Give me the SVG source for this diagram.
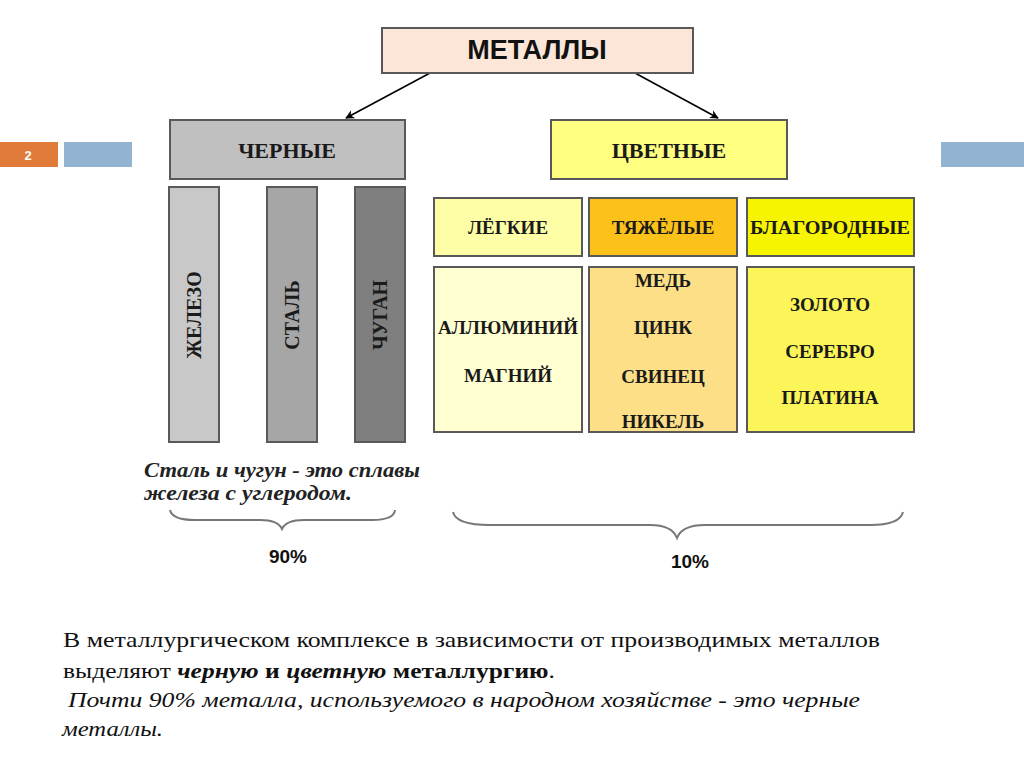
<svg xmlns="http://www.w3.org/2000/svg" width="1024" height="767" viewBox="0 0 1024 767">
<defs>
<marker id="ah" viewBox="0 0 10 10" refX="9" refY="5" markerWidth="9" markerHeight="9" orient="auto" markerUnits="userSpaceOnUse">
<path d="M0,0 L10,5 L0,10 L3,5 Z" fill="#000"/>
</marker>
</defs>
<style>
.box{stroke:#595959;stroke-width:2}
.lbl{font-family:"Liberation Serif","Times New Roman",serif;font-weight:bold;fill:#1a1a1a;text-anchor:middle}
.sans{font-family:"Liberation Sans",Arial,sans-serif;font-weight:bold;fill:#111;text-anchor:middle}
.txt{font-family:"Liberation Serif","Times New Roman",serif;font-size:22px;fill:#111}
.brace{fill:none;stroke:#777;stroke-width:2}
</style>
<rect width="1024" height="767" fill="#fff"/>
<g id="slide-decor">
<rect x="0" y="142" width="58" height="25" fill="#e07b39"/>
<text x="28" y="160" font-family="Liberation Sans,Arial,sans-serif" font-size="13" font-weight="bold" fill="#fff" text-anchor="middle">2</text>
<rect x="64" y="142" width="68" height="25" fill="#93b4d1"/>
<rect x="941" y="142" width="83" height="25" fill="#93b4d1"/>
</g>
<g id="connectors">
<line x1="430" y1="73" x2="346" y2="118" stroke="#000" stroke-width="1.6" marker-end="url(#ah)"/>
<line x1="635" y1="73" x2="718" y2="118" stroke="#000" stroke-width="1.6" marker-end="url(#ah)"/>
</g>
<g id="metals">
<rect class="box" x="382" y="28" width="311" height="45" fill="#fce6d8" stroke="#222"/>
<text class="sans" x="537" y="59" font-size="27">МЕТАЛЛЫ</text>
</g>
<g id="ferrous">
<rect class="box" x="170" y="120" width="235" height="59" fill="#c0c0c0"/>
<text class="lbl" x="287" y="158" font-size="22">ЧЕРНЫЕ</text>
</g>
<g id="nonferrous">
<rect class="box" x="551" y="120" width="236" height="59" fill="#fefe80" stroke="#7a7a4a"/>
<text class="lbl" x="669" y="158" font-size="22">ЦВЕТНЫЕ</text>
</g>
<g id="iron">
<rect class="box" x="169" y="187" width="50" height="255" fill="#c8c8c8"/>
<text class="lbl" transform="translate(201,315) rotate(-90)" font-size="20">ЖЕЛЕЗО</text>
</g>
<g id="steel">
<rect class="box" x="267" y="187" width="50" height="255" fill="#a6a6a6"/>
<text class="lbl" transform="translate(299,315) rotate(-90)" font-size="20">СТАЛЬ</text>
</g>
<g id="castiron">
<rect class="box" x="355" y="187" width="50" height="255" fill="#7f7f7f"/>
<text class="lbl" transform="translate(387,315) rotate(-90)" font-size="20">ЧУГАН</text>
</g>
<g id="light">
<rect class="box" x="434" y="198" width="148" height="58" fill="#fefea6" stroke="#8a8a6a"/>
<text class="lbl" x="508" y="234" font-size="19">ЛЁГКИЕ</text>
</g>
<g id="heavy">
<rect class="box" x="589" y="198" width="148" height="58" fill="#fcc21a" stroke="#8a7a4a"/>
<text class="lbl" x="663" y="234" font-size="19">ТЯЖЁЛЫЕ</text>
</g>
<g id="noble">
<rect class="box" x="747" y="198" width="167" height="58" fill="#f6f400" stroke="#8a8a4a"/>
<text class="lbl" x="830" y="234" font-size="19" textLength="160" lengthAdjust="spacingAndGlyphs">БЛАГОРОДНЫЕ</text>
</g>
<g id="light-list">
<rect class="box" x="434" y="267" width="148" height="165" fill="#ffffd2" stroke="#8a8a6a"/>
<text class="lbl" x="508" y="334" font-size="19" textLength="140" lengthAdjust="spacingAndGlyphs">АЛЛЮМИНИЙ</text>
<text class="lbl" x="508" y="382" font-size="19">МАГНИЙ</text>
</g>
<g id="heavy-list">
<rect class="box" x="589" y="267" width="148" height="165" fill="#fddf88" stroke="#8a7a4a"/>
<text class="lbl" x="663" y="287" font-size="19">МЕДЬ</text>
<text class="lbl" x="663" y="334" font-size="19">ЦИНК</text>
<text class="lbl" x="663" y="383" font-size="19">СВИНЕЦ</text>
<text class="lbl" x="663" y="428" font-size="19">НИКЕЛЬ</text>
</g>
<g id="noble-list">
<rect class="box" x="747" y="267" width="167" height="165" fill="#fbf55a" stroke="#8a8a4a"/>
<text class="lbl" x="830" y="311" font-size="19">ЗОЛОТО</text>
<text class="lbl" x="830" y="358" font-size="19">СЕРЕБРО</text>
<text class="lbl" x="830" y="404" font-size="19">ПЛАТИНА</text>
</g>
<g id="note">
<text font-family="Liberation Serif,Times New Roman,serif" font-style="italic" font-weight="bold" font-size="20" fill="#222">
<tspan x="144" y="477" textLength="276" lengthAdjust="spacingAndGlyphs">Сталь и чугун - это сплавы</tspan>
<tspan x="144" y="500" textLength="208" lengthAdjust="spacingAndGlyphs">железа с углеродом.</tspan>
</text>
</g>
<g id="brace-90">
<path class="brace" d="M170,510 Q172,520 195,520 L260,520 Q278,520 282,529 Q286,520 304,520 L372,520 Q394,520 395,510"/>
<text class="sans" x="288" y="563" font-size="19">90%</text>
</g>
<g id="brace-10">
<path class="brace" d="M453,512 Q456,525 490,525 L650,525 Q672,525 677,538 Q682,525 705,525 L870,525 Q900,525 903,512"/>
<text class="sans" x="690" y="568" font-size="19">10%</text>
</g>
<g id="body-text">
<text class="txt" x="63" y="647" textLength="817" lengthAdjust="spacingAndGlyphs">В металлургическом комплексе в зависимости от производимых металлов</text>
<text class="txt" x="63" y="678" textLength="492" lengthAdjust="spacingAndGlyphs">выделяют <tspan font-weight="bold" font-style="italic">черную</tspan><tspan font-weight="bold"> и </tspan><tspan font-weight="bold" font-style="italic">цветную</tspan><tspan font-weight="bold"> металлургию</tspan>.</text>
<text class="txt" x="68" y="707" font-style="italic" textLength="792" lengthAdjust="spacingAndGlyphs">Почти 90% металла, используемого в народном хозяйстве - это черные</text>
<text class="txt" x="62" y="736" font-style="italic" textLength="101" lengthAdjust="spacingAndGlyphs">металлы.</text>
</g>
</svg>
